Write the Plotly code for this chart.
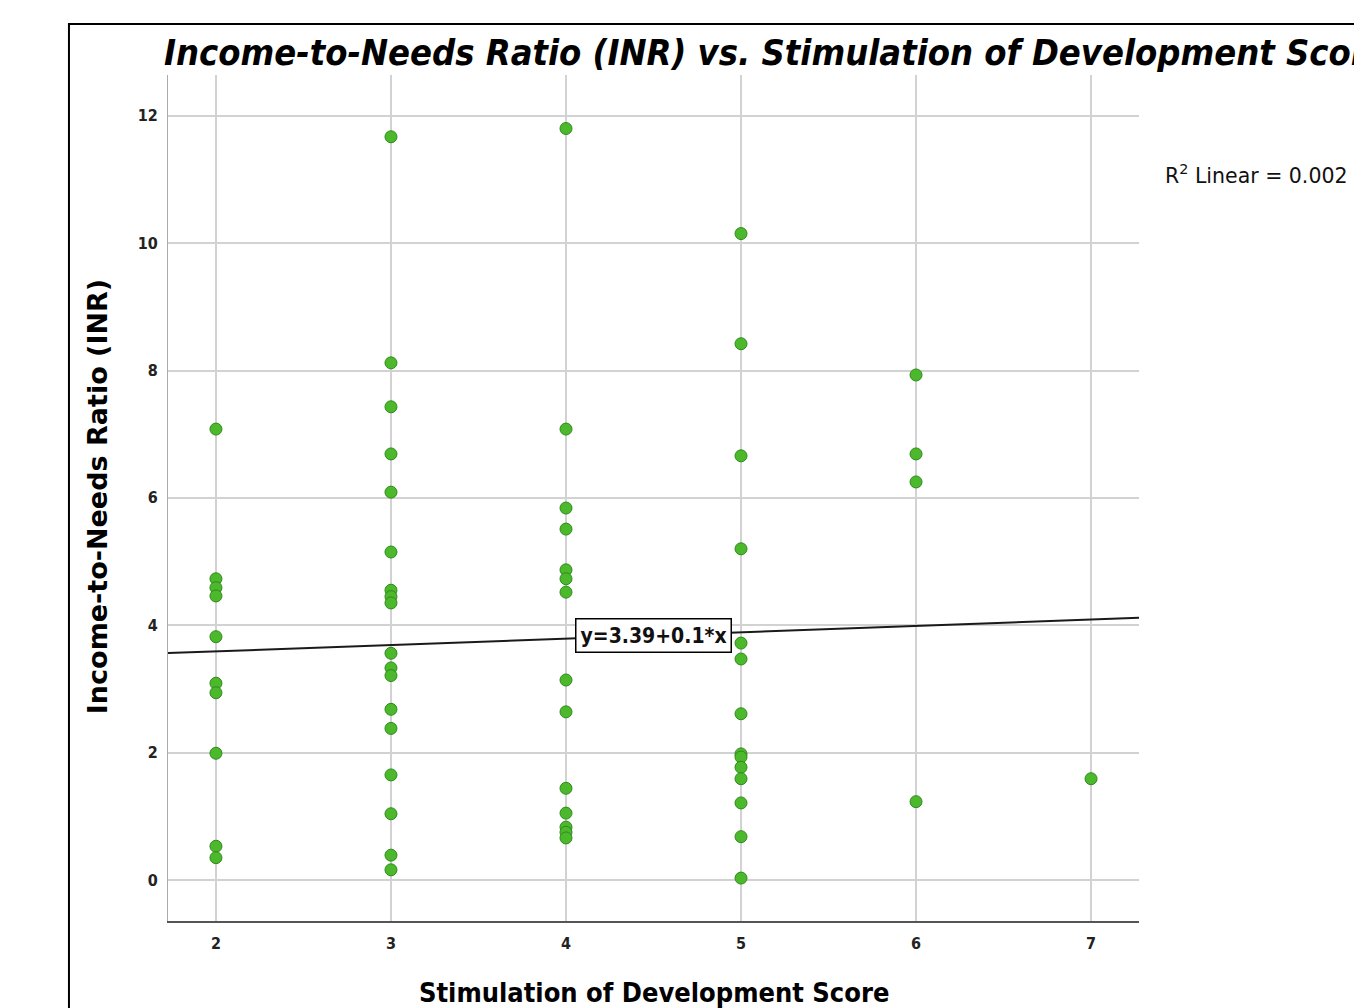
import plotly.graph_objects as go

# ---- data ----
score_2 = [7.08, 4.73, 4.59, 4.46, 3.82, 3.09, 2.94, 1.99, 0.53, 0.35]
score_3 = [11.67, 8.12, 7.43, 6.69, 6.09, 5.15, 4.55, 4.45, 4.35, 3.56, 3.33, 3.21,
           2.68, 2.38, 1.65, 1.04, 0.39, 0.16]
score_4 = [11.80, 7.08, 5.84, 5.51, 4.87, 4.73, 4.52, 3.14, 2.64, 1.44, 1.05,
           0.83, 0.75, 0.66]
score_5 = [10.15, 8.42, 6.66, 5.20, 3.72, 3.47, 2.61, 1.98, 1.93, 1.77, 1.59,
           1.21, 0.68, 0.03]
score_6 = [7.93, 6.69, 6.25, 1.23]
score_7 = [1.59]

groups = {2: score_2, 3: score_3, 4: score_4, 5: score_5, 6: score_6, 7: score_7}

intercept = 3.39
slope = 0.1
r2_text = "R<sup>2</sup> Linear = 0.002"
eq_text = "y=3.39+0.1*x"

x_ticks = [2, 3, 4, 5, 6, 7]
y_ticks = [0, 2, 4, 6, 8, 10, 12]
x_range = [1.726, 7.274]
y_range = [-0.644, 12.64]

xs, ys = [], []
for k, vals in groups.items():
    xs += [k] * len(vals)
    ys += vals

FONT = "Liberation Sans Narrow, DejaVu Sans Condensed, Arial Narrow, sans-serif"
WIDE = "DejaVu Sans, Verdana, sans-serif"

fig = go.Figure()

line_x = x_range
line_y = [intercept + slope * v for v in line_x]
fig.add_trace(go.Scatter(x=line_x, y=line_y, mode="lines",
                         line=dict(color="#1a1a1a", width=2),
                         hoverinfo="skip", showlegend=False))

fig.add_trace(go.Scatter(x=xs, y=ys, mode="markers",
                         marker=dict(size=12, color="#4cb82c",
                                     line=dict(color="#2f8a1c", width=1)),
                         showlegend=False))

fig.update_layout(
    width=1354, height=1000,
    margin=dict(l=160, r=223, t=67, b=87),
    paper_bgcolor="white", plot_bgcolor="white",
    font=dict(family=FONT, color="black"),
    xaxis=dict(range=x_range, tickvals=x_ticks, ticktext=[str(t) for t in x_ticks],
               showgrid=True, gridcolor="#d2d2d2", gridwidth=1.5,
               zeroline=False, showline=True, linecolor="#555555", linewidth=1.5,
               ticks="", ticklabelstandoff=7,
               tickfont=dict(size=16, family=FONT, weight="bold", color="#222")),
    yaxis=dict(range=y_range, tickvals=y_ticks, ticktext=[str(t) for t in y_ticks],
               showgrid=True, gridcolor="#d2d2d2", gridwidth=1.5,
               zeroline=False, showline=True, linecolor="#aaaaaa", linewidth=1,
               ticks="", ticklabelstandoff=6,
               tickfont=dict(size=16, family=FONT, weight="bold", color="#222")),
)

annotations = [
    dict(text="<b><i>Income-to-Needs Ratio (INR) vs. Stimulation of Development Score</i></b>",
         xref="paper", yref="paper", x=-0.006, y=1.027, xanchor="left", yanchor="middle",
         showarrow=False, font=dict(size=36, family=FONT, color="black")),
    dict(text="<b>Income-to-Needs Ratio (INR)</b>", xref="paper", yref="paper",
         x=-0.0731, y=0.501, textangle=-90, xanchor="center", yanchor="middle",
         showarrow=False, font=dict(size=27, family=WIDE, color="black")),
    dict(text="<b>Stimulation of Development Score</b>", xref="paper", yref="paper",
         x=0.5005, y=-0.085, xanchor="center", yanchor="middle",
         showarrow=False, font=dict(size=27, family=FONT, color="black")),
    dict(text=r2_text, xref="paper", yref="paper", x=1.0247, y=0.882,
         xanchor="left", yanchor="middle", showarrow=False,
         font=dict(size=20.5, family=WIDE, color="#111")),
    dict(text="<b>" + eq_text + "</b>", x=4.5, y=intercept + slope * 4.5,
         xref="x", yref="y", xanchor="center", yanchor="middle", showarrow=False,
         bgcolor="white", bordercolor="black", borderwidth=1.5, borderpad=4,
         font=dict(size=21, family=FONT, color="#111")),
]
fig.update_layout(annotations=annotations)

fig.add_shape(type="rect", xref="paper", yref="paper",
              x0=-0.102, x1=1.25, y0=-0.12, y1=1.0603,
              line=dict(color="black", width=2), fillcolor="rgba(0,0,0,0)", layer="above")

fig.write_html("out.html")
